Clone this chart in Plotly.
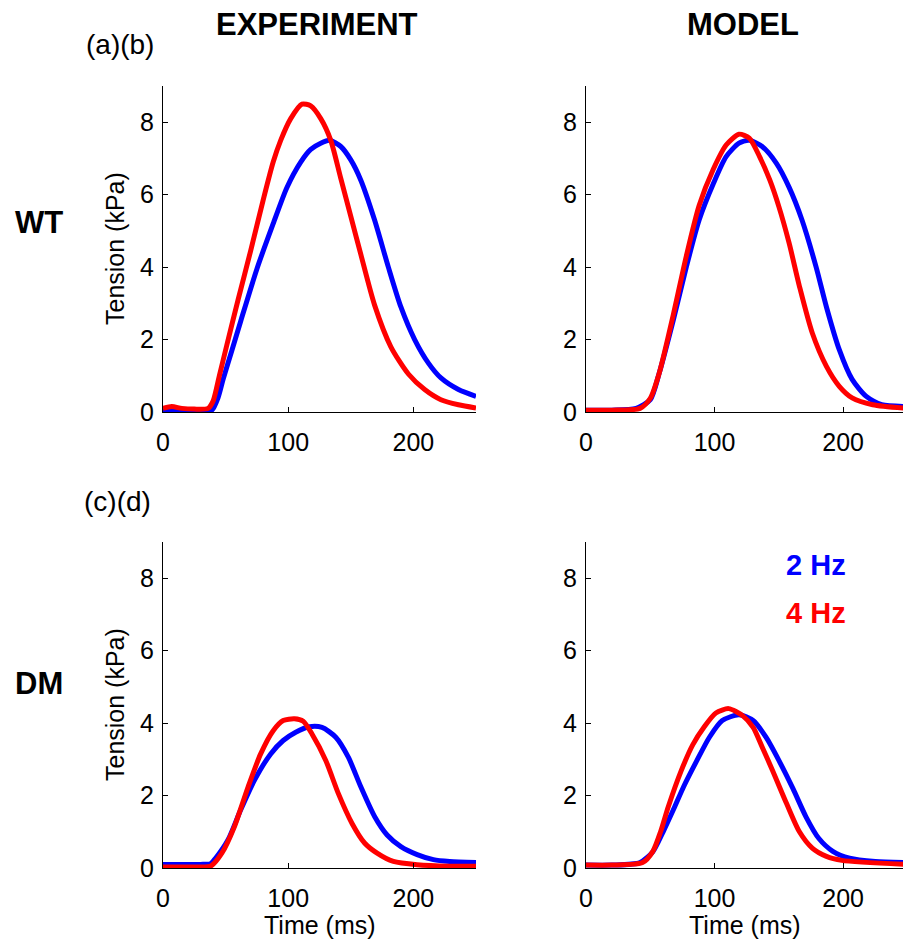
import plotly.graph_objects as go

# ---------------- data ----------------
# WT experiment (panel a)
wt_exp_2hz_t = [0, 10, 20, 30, 39, 44, 48, 55, 62, 75, 88, 99, 110, 118, 126, 133, 142, 150, 158, 169, 180, 190, 201, 212, 222, 236, 250]
wt_exp_2hz_v = [0.02, 0.02, 0.02, 0.02, 0.05, 0.4, 0.9, 1.7, 2.5, 3.95, 5.2, 6.2, 6.9, 7.25, 7.42, 7.5, 7.33, 6.96, 6.4, 5.3, 4.0, 2.9, 2.0, 1.35, 0.94, 0.62, 0.43]
wt_exp_4hz_t = [0, 7, 15, 25, 36, 40, 45, 51, 60, 70, 80, 88, 94, 102, 111, 118, 126, 134, 142, 150, 158, 169, 182, 196, 209, 222, 236, 250]
wt_exp_4hz_v = [0.1, 0.15, 0.1, 0.08, 0.1, 0.3, 1.0, 1.85, 3.1, 4.45, 5.85, 6.9, 7.5, 8.1, 8.5, 8.45, 8.1, 7.5, 6.45, 5.4, 4.35, 2.95, 1.8, 1.05, 0.62, 0.34, 0.2, 0.11]

# WT model (panel b)
wt_mod_2hz_t = [0, 20, 39, 50, 57, 68, 78, 88, 99, 109, 119, 127, 137, 148, 158, 168, 179, 187, 197, 207, 218, 230, 250]
wt_mod_2hz_v = [0.05, 0.05, 0.1, 0.34, 1.08, 2.55, 4.0, 5.3, 6.3, 7.05, 7.42, 7.5, 7.33, 6.87, 6.2, 5.3, 4.0, 2.9, 1.72, 0.9, 0.43, 0.2, 0.15]
wt_mod_4hz_t = [0, 20, 42, 50, 57, 68, 78, 88, 99, 109, 119, 127, 135, 143, 150, 158, 166, 176, 187, 197, 207, 223, 250]
wt_mod_4hz_v = [0.05, 0.05, 0.1, 0.38, 1.08, 2.7, 4.3, 5.7, 6.7, 7.37, 7.67, 7.56, 7.05, 6.4, 5.67, 4.66, 3.47, 2.18, 1.26, 0.71, 0.39, 0.2, 0.1]

# DM experiment (panel c)
dm_exp_2hz_t = [0, 15, 30, 38, 42, 52, 62, 73, 86, 96, 106, 117, 127, 138, 148, 158, 169, 179, 190, 203, 216, 229, 250]
dm_exp_2hz_v = [0.1, 0.1, 0.1, 0.12, 0.27, 0.78, 1.6, 2.42, 3.15, 3.52, 3.75, 3.9, 3.88, 3.61, 3.06, 2.24, 1.42, 0.91, 0.59, 0.37, 0.23, 0.18, 0.15]
dm_exp_4hz_t = [0, 15, 30, 38, 47, 57, 68, 78, 88, 96, 105, 112, 119, 130, 140, 151, 161, 171, 184, 203, 229, 250]
dm_exp_4hz_v = [0.03, 0.03, 0.03, 0.05, 0.41, 1.14, 2.24, 3.15, 3.79, 4.07, 4.12, 4.05, 3.7, 2.97, 2.06, 1.23, 0.69, 0.41, 0.18, 0.09, 0.05, 0.05]

# DM model (panel d)
dm_mod_2hz_t = [0, 20, 42, 52, 60, 69, 76, 86, 96, 106, 119, 130, 140, 150, 161, 171, 181, 192, 205, 225, 250]
dm_mod_2hz_v = [0.08, 0.08, 0.15, 0.45, 1.0, 1.69, 2.25, 2.95, 3.61, 4.07, 4.23, 4.07, 3.61, 2.97, 2.19, 1.42, 0.82, 0.46, 0.27, 0.18, 0.15]
dm_mod_4hz_t = [0, 20, 44, 52, 58, 64, 74, 83, 92, 101, 111, 122, 130, 137, 145, 156, 166, 176, 187, 199, 250]
dm_mod_4hz_v = [0.08, 0.08, 0.15, 0.46, 1.0, 1.69, 2.68, 3.4, 3.9, 4.28, 4.4, 4.2, 3.88, 3.34, 2.7, 1.78, 1.0, 0.55, 0.32, 0.21, 0.1]

y_ticks = [0, 2, 4, 6, 8]
x_ticks = [0, 100, 200]
freq_labels = ["2 Hz", "4 Hz"]
col_titles = ["EXPERIMENT", "MODEL"]
row_titles = ["WT", "DM"]
panel_tags = ["(a)(b)", "(c)(d)"]

BLUE = "#0000FF"
RED = "#FF0000"
FONT = "Liberation Sans, Arial, Helvetica, sans-serif"
W, H = 903, 940


def px(x):
    return x / W


def py(y):
    return 1 - y / H


fig = go.Figure()

panels = [
    ("x", "y", wt_exp_2hz_t, wt_exp_2hz_v, wt_exp_4hz_t, wt_exp_4hz_v),
    ("x2", "y2", wt_mod_2hz_t, wt_mod_2hz_v, wt_mod_4hz_t, wt_mod_4hz_v),
    ("x3", "y3", dm_exp_2hz_t, dm_exp_2hz_v, dm_exp_4hz_t, dm_exp_4hz_v),
    ("x4", "y4", dm_mod_2hz_t, dm_mod_2hz_v, dm_mod_4hz_t, dm_mod_4hz_v),
]
for xa, ya, t2, v2, t4, v4 in panels:
    fig.add_trace(go.Scatter(x=t2, y=v2, xaxis=xa, yaxis=ya, mode="lines",
                             line=dict(color=BLUE, width=5, shape="spline", smoothing=0.7),
                             showlegend=False))
    fig.add_trace(go.Scatter(x=t4, y=v4, xaxis=xa, yaxis=ya, mode="lines",
                             line=dict(color=RED, width=5, shape="spline", smoothing=0.7),
                             showlegend=False))

left_dom = [px(163), px(476)]
right_dom = [px(586), 1.0]
top_dom = [py(412), py(86)]
bot_dom = [py(868), py(542)]


def xaxis(dom, rng, anchor):
    return dict(domain=dom, range=rng, anchor=anchor, tickvals=x_ticks, automargin=False,
                showline=True, linecolor="black", linewidth=1,
                ticks="inside", ticklen=5, tickcolor="black", tickwidth=1,
                showgrid=False, zeroline=False, tickfont=dict(size=25, color="black"),
                ticklabelstandoff=8)


def yaxis(dom, anchor):
    return dict(domain=dom, range=[0, 9], anchor=anchor, tickvals=y_ticks, automargin=False,
                showline=True, linecolor="black", linewidth=1,
                ticks="inside", ticklen=5, tickcolor="black", tickwidth=1,
                showgrid=False, zeroline=False, tickfont=dict(size=25, color="black"),
                ticklabelstandoff=3)


right_rng = [0, (W - 586) / 1.2857]
fig.update_layout(
    xaxis=xaxis(left_dom, [0, 250], "y"),
    yaxis=yaxis(top_dom, "x"),
    xaxis2=xaxis(right_dom, right_rng, "y2"),
    yaxis2=yaxis(top_dom, "x2"),
    xaxis3=xaxis(left_dom, [0, 250], "y3"),
    yaxis3=yaxis(bot_dom, "x3"),
    xaxis4=xaxis(right_dom, right_rng, "y4"),
    yaxis4=yaxis(bot_dom, "x4"),
)

ann = []
# column titles
ann.append(dict(x=px(317), y=py(25), text="<b>%s</b>" % col_titles[0], font=dict(size=31)))
ann.append(dict(x=px(743), y=py(25), text="<b>%s</b>" % col_titles[1], font=dict(size=31)))
# panel tags
ann.append(dict(x=px(120), y=py(45), text=panel_tags[0], font=dict(size=28)))
ann.append(dict(x=px(118), y=py(501), text=panel_tags[1], font=dict(size=28)))
# row titles
ann.append(dict(x=px(39), y=py(222), text="<b>%s</b>" % row_titles[0], font=dict(size=31)))
ann.append(dict(x=px(39), y=py(683), text="<b>%s</b>" % row_titles[1], font=dict(size=31)))
# y axis titles
ann.append(dict(x=px(115), y=py(249), text="Tension (kPa)", textangle=-90, font=dict(size=25)))
ann.append(dict(x=px(115), y=py(705), text="Tension (kPa)", textangle=-90, font=dict(size=25)))
# x axis titles
ann.append(dict(x=px(320), y=py(925), text="Time (ms)", font=dict(size=25)))
ann.append(dict(x=px(745), y=py(925), text="Time (ms)", font=dict(size=25)))
# frequency legend
ann.append(dict(x=px(848), y=py(565), text="<b>%s</b>" % freq_labels[0], xanchor="right",
                font=dict(size=29, color=BLUE)))
ann.append(dict(x=px(848), y=py(613), text="<b>%s</b>" % freq_labels[1], xanchor="right",
                font=dict(size=29, color=RED)))

for a in ann:
    a.setdefault("xanchor", "center")
    a["xref"] = "paper"
    a["yref"] = "paper"
    a["yanchor"] = "middle"
    a["showarrow"] = False
    f = a["font"]
    f.setdefault("color", "black")
    f["family"] = FONT
fig.update_layout(annotations=ann)

fig.update_layout(
    width=W, height=H,
    margin=dict(l=0, r=0, t=0, b=0),
    paper_bgcolor="white", plot_bgcolor="white",
    font=dict(family=FONT, color="black"),
    showlegend=False,
)

fig.write_html("out.html")
